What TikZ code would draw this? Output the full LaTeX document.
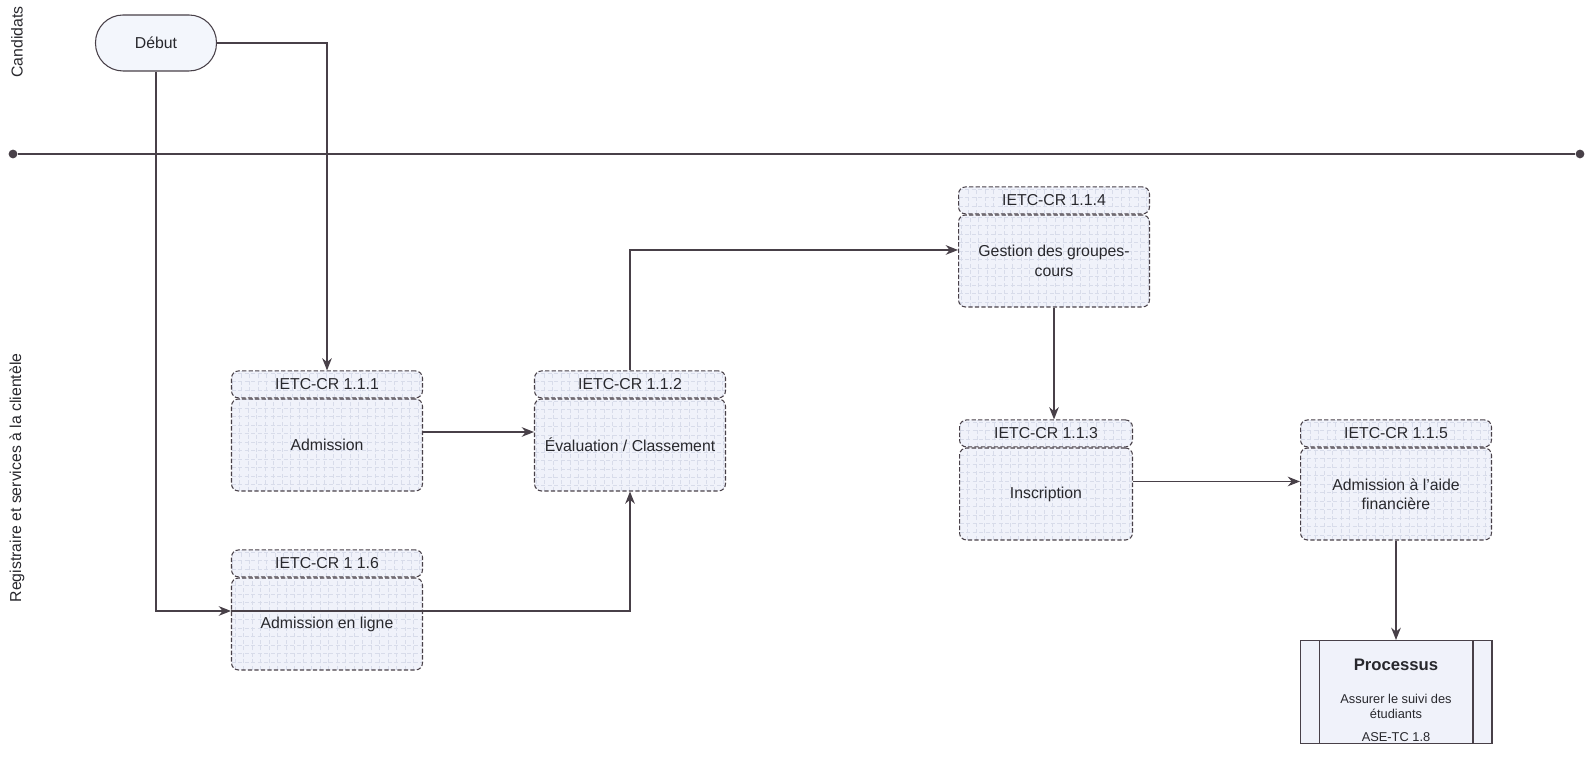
\documentclass[tikz,border=0pt]{standalone}
\usepackage{fontspec}
\setmainfont{Liberation Sans}
\usetikzlibrary{arrows.meta, positioning}
\definecolor{mydark}{RGB}{72,64,72}
\definecolor{mytext}{RGB}{40,40,45}
\definecolor{boxfill}{RGB}{240,242,250}
\definecolor{boxgrid}{RGB}{216,220,234}
\definecolor{startfill}{RGB}{243,246,252}
\tikzset{
  gridded/.style={path picture={\draw[boxgrid, line width=0.3pt, step=0.17cm]
    (path picture bounding box.south west) grid (path picture bounding box.north east);}},
  body/.style={rectangle, rounded corners=4pt, draw=mydark, dash pattern=on 2.5pt off 1.2pt,
    fill=boxfill, gridded, minimum width=3.82cm, minimum height=1.84cm, align=center,
    font=\fontsize{9}{11}\selectfont, text=mytext, line width=0.6pt},
  hdr/.style={body, minimum height=0.54cm},
  arrow/.style={-{Stealth[length=7pt,width=5.5pt]}, line width=0.7pt, color=mydark},
  line/.style={line width=0.7pt, color=mydark}
}
\begin{document}
\begin{tikzpicture}[x=0.02cm, y=0.02cm,
  lane/.style={rotate=90, font=\fontsize{9}{11}\selectfont, text=mytext},
  start/.style={rectangle, rounded corners=0.55cm, draw=mydark, fill=startfill, minimum width=2.42cm,
    minimum height=1.12cm, font=\fontsize{9}{11}\selectfont, text=mytext, line width=0.6pt},
  proc/.style={rectangle, draw=mydark, fill=boxfill, minimum width=3.84cm, minimum height=2.06cm,
    inner ysep=0pt, align=center, font=\fontsize{7.3}{8.5}\selectfont, text=mytext, line width=0.6pt,
    path picture={
      \draw[mydark, line width=0.6pt] ([xshift=0.38cm]path picture bounding box.south west) -- ([xshift=0.38cm]path picture bounding box.north west);
      \draw[mydark, line width=0.6pt] ([xshift=-0.38cm]path picture bounding box.south east) -- ([xshift=-0.38cm]path picture bounding box.north east);}},
  dot/.style={circle, fill=mydark, inner sep=0pt, minimum size=5pt}
]
\useasboundingbox (0,0) rectangle (1585,766);

% Lanes
\node[lane] (lcand) at (17,724) {Candidats};
\node[lane] (lreg) at (17,288) {Registraire et services à la clientèle};
\node[dot] (laneL) at (13,612) {};
\node[dot] (laneR) at (1580,612) {};
\draw[line] (laneL) -- (laneR);

% Start
\node[start] (debut) at (156,723) {Début};

% Activities
\node[body] (b111) at (327,321) {Admission};
\node[hdr, above=0pt of b111] (h111) {IETC-CR 1.1.1};
\node[body] (b112) at (630,321) {Évaluation / Classement};
\node[hdr, above=0pt of b112] (h112) {IETC-CR 1.1.2};
\node[body] (b116) at (327,142) {Admission en ligne};
\node[hdr, above=0pt of b116] (h116) {IETC-CR 1 1.6};
\node[body] (b114) at (1054,505) {Gestion des groupes-\\cours};
\node[hdr, above=0pt of b114] (h114) {IETC-CR 1.1.4};
\node[body, minimum width=3.46cm] (b113) at (1046,272) {Inscription};
\node[hdr, minimum width=3.46cm, above=0pt of b113] (h113) {IETC-CR 1.1.3};
\node[body] (b115) at (1396,272) {Admission à l'aide\\financière};
\node[hdr, above=0pt of b115] (h115) {IETC-CR 1.1.5};

% Process
\node[proc] (proc) at (1396,74) {\rule{0pt}{16pt}{\fontsize{9.5}{11}\selectfont\bfseries Processus}\\[10pt]
  Assurer le suivi des\\étudiants\\[4.5pt]ASE-TC 1.8};

% Connectors
\draw[arrow] (debut.east) -| (h111.north);
\draw[arrow] (debut.south) |- ([yshift=0.26cm]b116.west);
\draw[arrow] ([yshift=0.26cm]b116.west) -| (b112.south);
\draw[arrow] ([yshift=0.26cm]b111.east) -- ([yshift=0.26cm]b112.west);
\draw[arrow] (h112.north) |- ([yshift=0.22cm]b114.west);
\draw[arrow] (b114.south) -- (b114.south |- h113.north);
\draw[arrow] ([yshift=0.25cm]b113.east) -- ([yshift=0.25cm]b115.west);
\draw[arrow] (b115.south) -- (proc.north);
\end{tikzpicture}
\end{document}
